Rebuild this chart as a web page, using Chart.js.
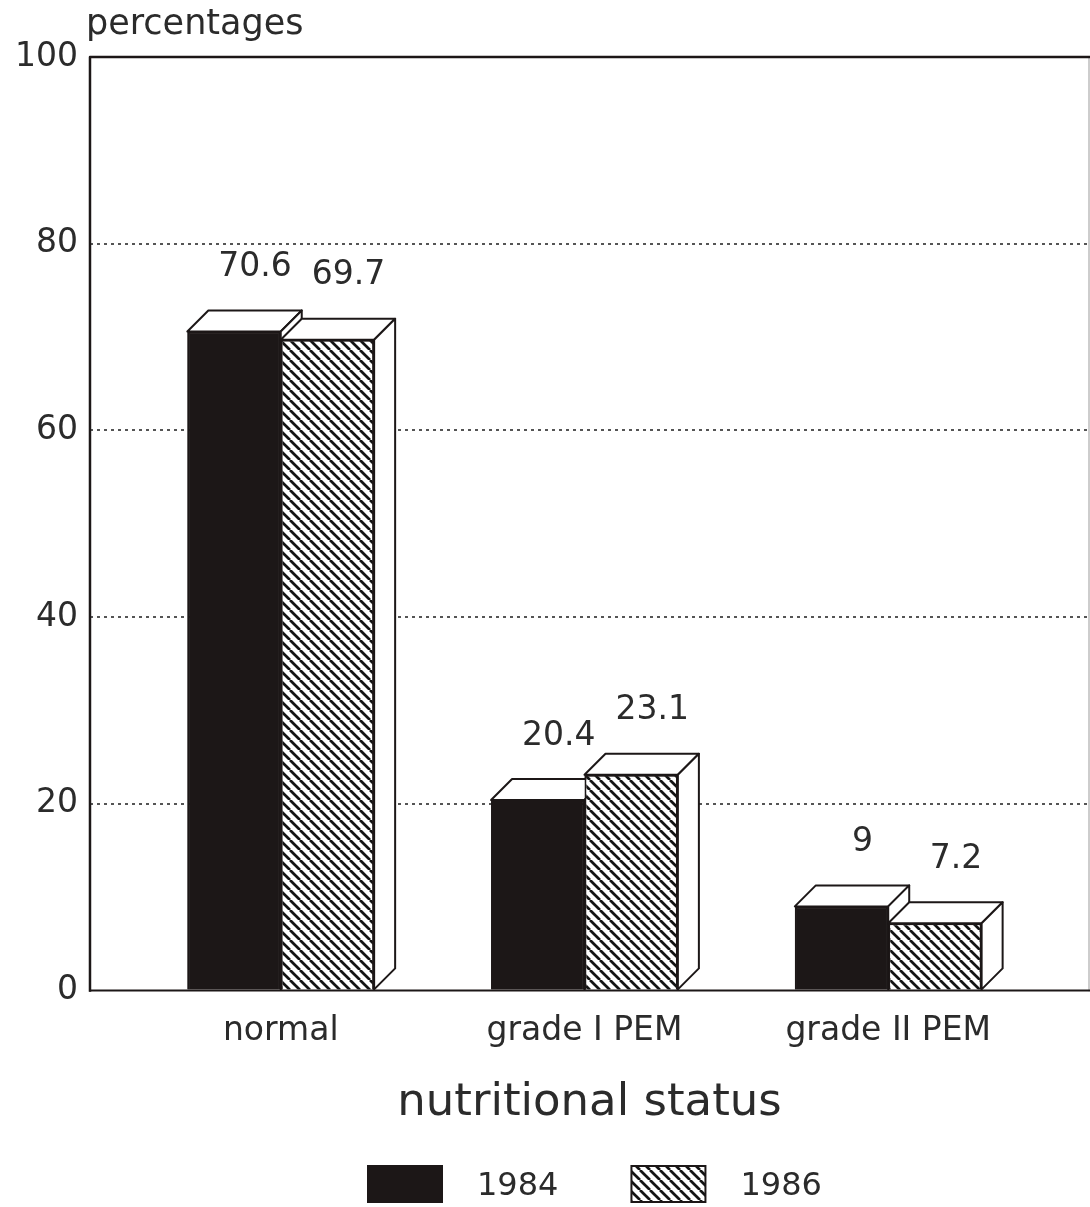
<!DOCTYPE html>
<html>
<head>
<meta charset="utf-8">
<script src="https://cdn.jsdelivr.net/npm/chart.js@4"></script>
<style>
  html, body { margin: 0; padding: 0; background: #fff; overflow: hidden; }
  canvas { display: block; }
</style>
</head>
<body>
<canvas id="chart" width="1090" height="1207"></canvas>
<script>
// Nutritional status of children, 1984 vs 1986 (percentages)
const categories = ['normal', 'grade I PEM', 'grade II PEM'];
const seriesNames = ['1984', '1986'];
const values1984 = [70.6, 20.4, 9];
const values1986 = [69.7, 23.1, 7.2];
const yTicks = [0, 20, 40, 60, 80, 100];
const yAxisLabel = 'percentages';
const xAxisLabel = 'nutritional status';

const INK = '#1c1717';
const TEXT = '#2b2b2b';
const FONT = "'DejaVu Sans', sans-serif";
const DEPTH = 21;            // depth of the extruded bar faces, px

// diagonal "\\\" hatch used for the 1986 series
function makeHatch() {
  const s = 10;
  const c = document.createElement('canvas');
  c.width = s; c.height = s;
  const g = c.getContext('2d');
  g.fillStyle = '#fff';
  g.fillRect(0, 0, s, s);
  g.strokeStyle = '#141414';
  g.lineWidth = 2.7;
  for (const k of [-s, 0, s]) {
    g.beginPath();
    g.moveTo(k, 0);
    g.lineTo(k + s, s);
    g.stroke();
  }
  return g.createPattern(c, 'repeat');
}
const hatch = makeHatch();

const toPoints = vals => categories.map((_, i) => ({ x: i, y: vals[i] }));

// top and side faces of each bar, plus value labels
const boxFaces = {
  id: 'boxFaces',
  afterDatasetsDraw(chart) {
    const ctx = chart.ctx;
    const metas = chart.data.datasets.map((_, d) => chart.getDatasetMeta(d));
    ctx.save();
    for (let i = 0; i < categories.length; i++) {
      metas.forEach((meta, d) => {
        const el = meta.data[i];
        const { x, y, base, width } = el.getProps(['x', 'y', 'base', 'width'], true);
        const l = x - width / 2, r = x + width / 2;
        ctx.lineWidth = 2;
        ctx.lineJoin = 'round';
        ctx.strokeStyle = INK;
        ctx.fillStyle = '#fff';
        ctx.beginPath();
        ctx.moveTo(l, y);
        ctx.lineTo(r, y);
        ctx.lineTo(r + DEPTH, y - DEPTH);
        ctx.lineTo(l + DEPTH, y - DEPTH);
        ctx.closePath();
        ctx.fill();
        ctx.stroke();
        ctx.beginPath();
        ctx.moveTo(r, y);
        ctx.lineTo(r + DEPTH, y - DEPTH);
        ctx.lineTo(r + DEPTH, base - DEPTH);
        ctx.lineTo(r, base);
        ctx.closePath();
        ctx.fill();
        ctx.stroke();
        el.draw(ctx);
        ctx.fillStyle = TEXT;
        ctx.font = `33px ${FONT}`;
        ctx.textAlign = 'center';
        ctx.textBaseline = 'middle';
        ctx.fillText(String(chart.data.datasets[d].data[i].y), x + DEPTH, y - DEPTH - 43);
      });
    }
    // plot frame
    const a = chart.chartArea;
    ctx.lineCap = 'square';
    ctx.strokeStyle = '#bdbdbd';
    ctx.lineWidth = 1.5;
    ctx.beginPath();
    ctx.moveTo(a.right, a.top);
    ctx.lineTo(a.right, a.bottom);
    ctx.stroke();
    ctx.strokeStyle = INK;
    ctx.lineWidth = 2.5;
    ctx.beginPath();
    ctx.moveTo(a.left, a.bottom);
    ctx.lineTo(a.left, a.top);
    ctx.lineTo(a.right, a.top);
    ctx.stroke();
    ctx.lineWidth = 2;
    ctx.beginPath();
    ctx.moveTo(a.left, a.bottom);
    ctx.lineTo(a.right, a.bottom);
    ctx.stroke();
    ctx.restore();
  },
  afterDraw(chart) {
    const ctx = chart.ctx;
    const a = chart.chartArea;
    ctx.save();
    ctx.fillStyle = TEXT;
    ctx.font = `35px ${FONT}`;
    ctx.textAlign = 'left';
    ctx.textBaseline = 'alphabetic';
    ctx.fillText(yAxisLabel, a.left - 4, 34);

    // legend
    const fills = chart.data.datasets.map(ds => ds.backgroundColor);
    const sw = 74, sh = 36, gap = 35, spacing = 73;
    let lx = 368;
    const ly = 1166;
    ctx.font = `32px ${FONT}`;
    ctx.textBaseline = 'middle';
    seriesNames.forEach((name, d) => {
      ctx.fillStyle = fills[d];
      ctx.fillRect(lx, ly, sw, sh);
      ctx.strokeStyle = INK;
      ctx.lineWidth = 2;
      ctx.strokeRect(lx, ly, sw, sh);
      ctx.fillStyle = TEXT;
      ctx.fillText(name, lx + sw + gap, ly + sh / 2 + 3);
      lx += sw + gap + ctx.measureText(name).width + spacing;
    });
    ctx.restore();
  }
};

new Chart(document.getElementById('chart'), {
  type: 'bar',
  data: {
    datasets: [
      {
        label: seriesNames[0],
        data: toPoints(values1984),
        backgroundColor: INK,
        borderColor: INK,
        borderWidth: 2
      },
      {
        label: seriesNames[1],
        data: toPoints(values1986),
        backgroundColor: hatch,
        borderColor: INK,
        borderWidth: 2
      }
    ]
  },
  options: {
    responsive: false,
    animation: false,
    categoryPercentage: 0.615,
    barPercentage: 1,
    layout: { padding: { left: 3, right: 1, top: 57, bottom: 77 } },
    plugins: {
      legend: { display: false },
      tooltip: { enabled: false }
    },
    scales: {
      x: {
        type: 'linear',
        offset: false,
        min: -0.628,
        max: 2.661,
        afterBuildTicks: scale => { scale.ticks = categories.map((_, i) => ({ value: i })); },
        grid: { display: false },
        border: { display: false },
        ticks: {
          callback: v => categories[v],
          color: TEXT,
          font: { family: FONT, size: 33 },
          padding: 13,
          maxRotation: 0,
          autoSkip: false
        },
        title: {
          display: true,
          text: xAxisLabel,
          color: TEXT,
          font: { family: FONT, size: 45 },
          padding: { top: 12, bottom: 0 }
        }
      },
      y: {
        min: 0,
        max: 100,
        afterBuildTicks: scale => { scale.ticks = yTicks.map(v => ({ value: v })); },
        grid: {
          drawTicks: false,
          lineWidth: 2,
          color: c => (c.tick && (c.tick.value === 0 || c.tick.value === 100)) ? 'rgba(0,0,0,0)' : '#555'
        },
        border: { display: false, dash: [3, 4] },
        ticks: {
          color: TEXT,
          font: { family: FONT, size: 33 },
          padding: 12
        }
      }
    }
  },
  plugins: [boxFaces]
});
</script>
</body>
</html>
